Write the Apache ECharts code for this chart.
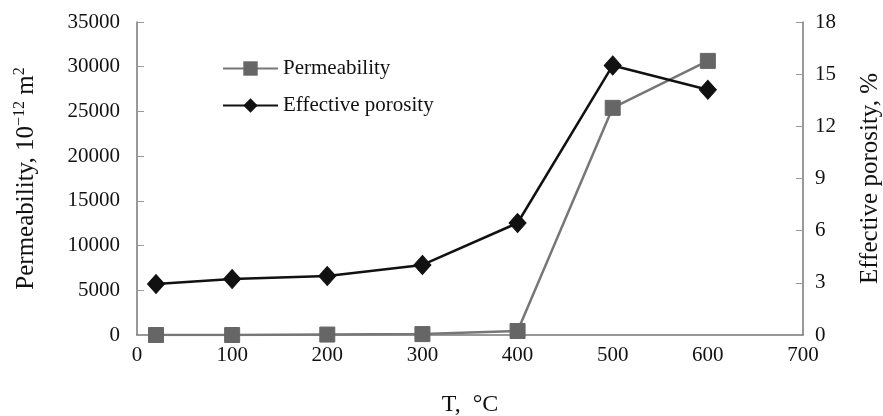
<!DOCTYPE html>
<html><head><meta charset="utf-8">
<script src="https://cdn.jsdelivr.net/npm/echarts@6/dist/echarts.min.js"></script>
<style>html,body{margin:0;padding:0;background:#fff}#c{width:883px;height:416px}</style>
</head><body><div id="c"></div>
<script>
const temperatures = [20, 100, 200, 300, 400, 500, 600];
const permeability = [0, 0, 50, 100, 450, 25400, 30650];
const porosity = [2.93, 3.22, 3.39, 4.03, 6.44, 15.5, 14.1];
const xTicks = [0, 700, 100];
const leftTicks = [0, 35000, 5000];
const rightTicks = [0, 18, 3];

const F = 'Liberation Serif, Times New Roman, serif';
const chart = echarts.init(document.getElementById('c'));
chart.setOption({
  animation: false,
  backgroundColor: '#fff',
  grid: {left: 137, right: 80, top: 22, bottom: 81, outerBoundsMode: 'none', containLabel: false},
  legend: {
    orient: 'vertical', left: 217, top: 53, itemWidth: 55, itemHeight: 18, itemGap: 16,
    textStyle: {fontFamily: F, fontSize: 21, color: '#111'},
    data: ['Permeability', 'Effective porosity']
  },
  xAxis: {
    type: 'value', min: xTicks[0], max: xTicks[1], interval: xTicks[2],
    name: 'T,  °C', nameLocation: 'middle', nameGap: 58,
    nameTextStyle: {fontFamily: F, fontSize: 24, color: '#111'},
    axisLine: {lineStyle: {color: '#777', width: 1.5}},
    axisTick: {show: false},
    splitLine: {show: false},
    axisLabel: {fontFamily: F, fontSize: 21, color: '#111', margin: 10, formatter: v => String(v)}
  },
  yAxis: [{
    type: 'value', min: leftTicks[0], max: leftTicks[1], interval: leftTicks[2],
    name: 'Permeability, 10{sup|−12} m{sup|2}', nameLocation: 'middle', nameGap: 97,
    nameTextStyle: {fontFamily: F, fontSize: 25, color: '#111',
      rich: {sup: {fontFamily: F, fontSize: 16, color: '#111', verticalAlign: 'top', padding: [0,0,12,0]}}},
    axisLine: {show: true, lineStyle: {color: '#777', width: 1.5}},
    axisTick: {show: true, inside: true, length: 7, lineStyle: {color: '#999'}},
    splitLine: {show: false},
    axisLabel: {fontFamily: F, fontSize: 21, color: '#111', margin: 17, formatter: v => String(v)}
  }, {
    type: 'value', min: rightTicks[0], max: rightTicks[1], interval: rightTicks[2],
    name: 'Effective porosity, %', nameLocation: 'middle', nameGap: 55,
    nameTextStyle: {fontFamily: F, fontSize: 25, color: '#111'},
    axisLine: {show: true, lineStyle: {color: '#777', width: 1.5}},
    axisTick: {show: true, inside: true, length: 7, lineStyle: {color: '#999'}},
    splitLine: {show: false},
    axisLabel: {fontFamily: F, fontSize: 21, color: '#111', margin: 12, formatter: v => String(v)}
  }],
  series: [{
    name: 'Permeability', type: 'line', yAxisIndex: 0,
    data: temperatures.map((t, i) => [t, permeability[i]]),
    symbol: 'rect', symbolSize: 15,
    lineStyle: {color: '#777', width: 2.5},
    itemStyle: {color: '#666', borderColor: '#666'},
    z: 3
  }, {
    name: 'Effective porosity', type: 'line', yAxisIndex: 1,
    data: temperatures.map((t, i) => [t, porosity[i]]),
    symbol: 'diamond', symbolSize: [17, 19],
    lineStyle: {color: '#111', width: 2.5},
    itemStyle: {color: '#111', borderColor: '#111'},
    z: 4
  }]
});
</script></body></html>
